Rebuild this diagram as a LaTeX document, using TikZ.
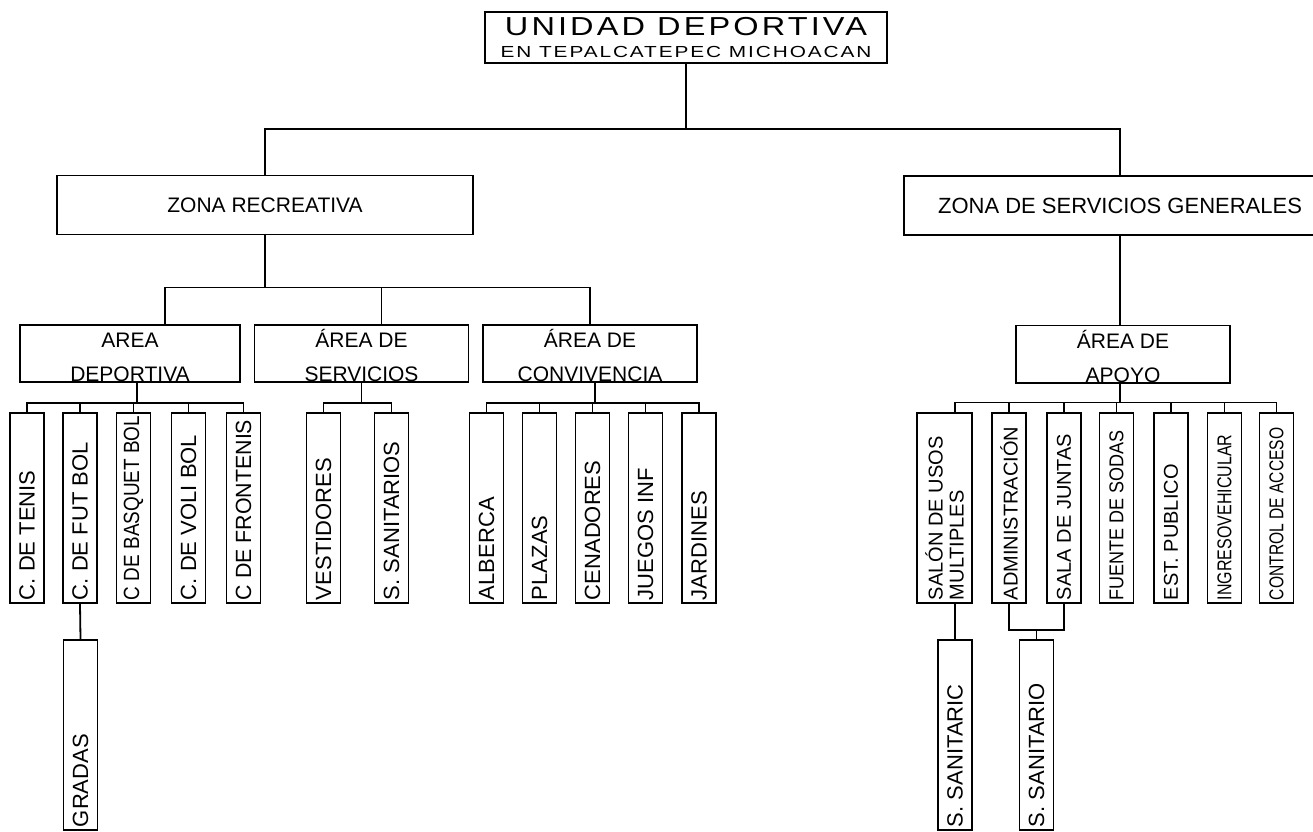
\documentclass[tikz,border=0pt]{standalone}
\usepackage{fontspec}
\usepackage{graphicx}
\setmainfont{Liberation Sans}
\newfontfamily\titlefont[FakeStretch=1.25, LetterSpace=12]{Liberation Sans}
\newfontfamily\subtitlefont[FakeStretch=1.3, LetterSpace=12]{Liberation Sans}
\usetikzlibrary{positioning}
\tikzset{
  titlebox/.style = {draw, line width=1.8pt, minimum width=402pt,
                     minimum height=51pt, inner sep=0pt, align=center,
                     font=\fontsize{16}{22}\selectfont},
  zonebox/.style  = {draw, line width=1.8pt, minimum height=59pt,
                     inner sep=0pt, font=\fontsize{21}{25}\selectfont},
  areabox/.style  = {draw, line width=1.8pt, minimum width=214pt,
                     minimum height=57pt, inner sep=0pt, align=center,
                     font=\fontsize{21}{34}\selectfont},
  colbox/.style   = {draw, line width=1.8pt, minimum width=34pt,
                     minimum height=190pt, inner sep=0pt,
                     font=\fontsize{22}{24}\selectfont},
  abox/.style     = {colbox, font=\fontsize{20}{21}\selectfont},
  link/.style     = {line width=1.8pt}
}
\newcommand{\vlab}[1]{\rotatebox{90}{\parbox{184pt}{\raggedright #1}}}
\newcommand{\squeeze}[2][0.85]{\scalebox{#1}[1]{#2}}
\newcommand{\astrut}{\rule{0pt}{23pt}}

\begin{document}
\begin{tikzpicture}[x=1pt, y=-1pt]
  \useasboundingbox (0,0) rectangle (1313,831);

  % title
  \node[titlebox] (titulo) at (686,37.5)
    {{\titlefont\fontsize{26}{22}\selectfont UNIDAD DEPORTIVA}\\
     {\subtitlefont EN TEPALCATEPEC MICHOACAN}};

  % zones
  \node[zonebox, minimum width=416pt] (zr) at (265,205) {ZONA RECREATIVA};
  \node[zonebox, minimum width=432pt, font=\fontsize{22}{26}\selectfont]
    (zs) at (1120,205.5) {ZONA DE SERVICIOS GENERALES};

  % areas
  \node[areabox, minimum width=220pt] (ad) at (130,353.5) {\astrut AREA\\DEPORTIVA};
  \node[areabox] (as) at (361.5,353.5) {\astrut ÁREA DE\\SERVICIOS};
  \node[areabox] (ac) at (590,353.5)   {\astrut ÁREA DE\\CONVIVENCIA};
  \node[areabox] (ap) at (1123,354)    {\astrut ÁREA DE\\APOYO};

  % area deportiva
  \node[colbox] (tenis)   at (27,508)    {\vlab{C. DE TENIS}};
  \node[colbox] (futbol)  at (80,508)    {\vlab{C. DE FUT BOL}};
  \node[colbox] (basquet) at (133.5,508) {\vlab{\squeeze[0.86]{C DE BASQUET BOL}}};
  \node[colbox] (voli)    at (188.5,508) {\vlab{C. DE VOLI BOL}};
  \node[colbox] (fronton) at (243.5,508) {\vlab{\squeeze[0.97]{C DE FRONTENIS}}};
  \node[colbox] (gradas)  at (80.5,735)  {\vlab{GRADAS}};

  % area de servicios
  \node[colbox] (vestid) at (323.5,508) {\vlab{VESTIDORES}};
  \node[colbox] (sanit)  at (391.5,508) {\vlab{S. SANITARIOS}};

  % area de convivencia
  \node[colbox] (alberca) at (486.5,508) {\vlab{ALBERCA}};
  \node[colbox] (plazas)  at (539.5,508) {\vlab{PLAZAS}};
  \node[colbox] (cenad)   at (592.5,508) {\vlab{CENADORES}};
  \node[colbox] (juegos)  at (645.5,508) {\vlab{JUEGOS INF}};
  \node[colbox] (jardin)  at (699,508)   {\vlab{JARDINES}};

  % area de apoyo
  \node[abox, minimum width=55pt] (salon) at (944.5,508) {\vlab{SALÓN DE USOS\\MULTIPLES}};
  \node[abox] (admin)   at (1009,508)   {\vlab{ADMINISTRACIÓN}};
  \node[abox] (sala)    at (1064,508)   {\vlab{SALA DE JUNTAS}};
  \node[abox] (fuente)  at (1116.5,508) {\vlab{\squeeze[0.9]{FUENTE DE SODAS}}};
  \node[abox] (estac)   at (1171,508)   {\vlab{EST. PUBLICO}};
  \node[abox] (ingreso) at (1224.5,508) {\vlab{\squeeze[0.8]{INGRESOVEHICULAR}}};
  \node[abox] (control) at (1276.5,508) {\vlab{\squeeze[0.78]{CONTROL DE ACCESO}}};
  \node[colbox] (ss1) at (955,735)    {\vlab{S. SANITARIC}};
  \node[colbox] (ss2) at (1036.5,735) {\vlab{S. SANITARIO}};

  % links
  \draw[link] (titulo.south) -- ++(0,65) coordinate (j0);
  \draw[link] (zr.north) |- (j0) -| (zs.north);

  \draw[link] (zr.south) -- ++(0,52) coordinate (j1);
  \draw[link] ([xshift=35pt]ad.north) |- (j1) -| (ac.north);
  \draw[link] ([xshift=20pt]as.north) -- ([xshift=20pt]as.north |- j1);

  \draw[link] ([xshift=7pt]ad.south) -- ++(0,20) coordinate (j2);
  \draw[link] (tenis.north) |- (j2) -| (fronton.north);
  \foreach \n in {futbol,basquet,voli}
    \draw[link] (\n.north) -- (\n.north |- j2);
  \draw[link] (futbol.south) -- (gradas.north);

  \draw[link] (as.south) -- ++(0,20) coordinate (j3);
  \draw[link] (vestid.north) |- (j3) -| (sanit.north);

  \draw[link] ([xshift=5pt]ac.south) -- ++(0,20) coordinate (j4);
  \draw[link] (alberca.north) |- (j4) -| (jardin.north);
  \foreach \n in {plazas,cenad,juegos}
    \draw[link] (\n.north) -- (\n.north |- j4);

  \draw[link] (zs.south) -- (zs.south |- ap.north);
  \draw[link] ([xshift=-3pt]ap.south) -- ++(0,19) coordinate (j5);
  \draw[link] (salon.north -| ss1.north) |- (j5) -| (control.north);
  \foreach \n in {admin,sala,fuente,estac,ingreso}
    \draw[link] (\n.north) -- (\n.north |- j5);
  \draw[link] (salon.south -| ss1.north) -- (ss1.north);
  \draw[link] (admin.south) -- ++(0,26) coordinate (j6) -| (sala.south);
  \draw[link] (ss2.north) -- (ss2.north |- j6);
\end{tikzpicture}
\end{document}
